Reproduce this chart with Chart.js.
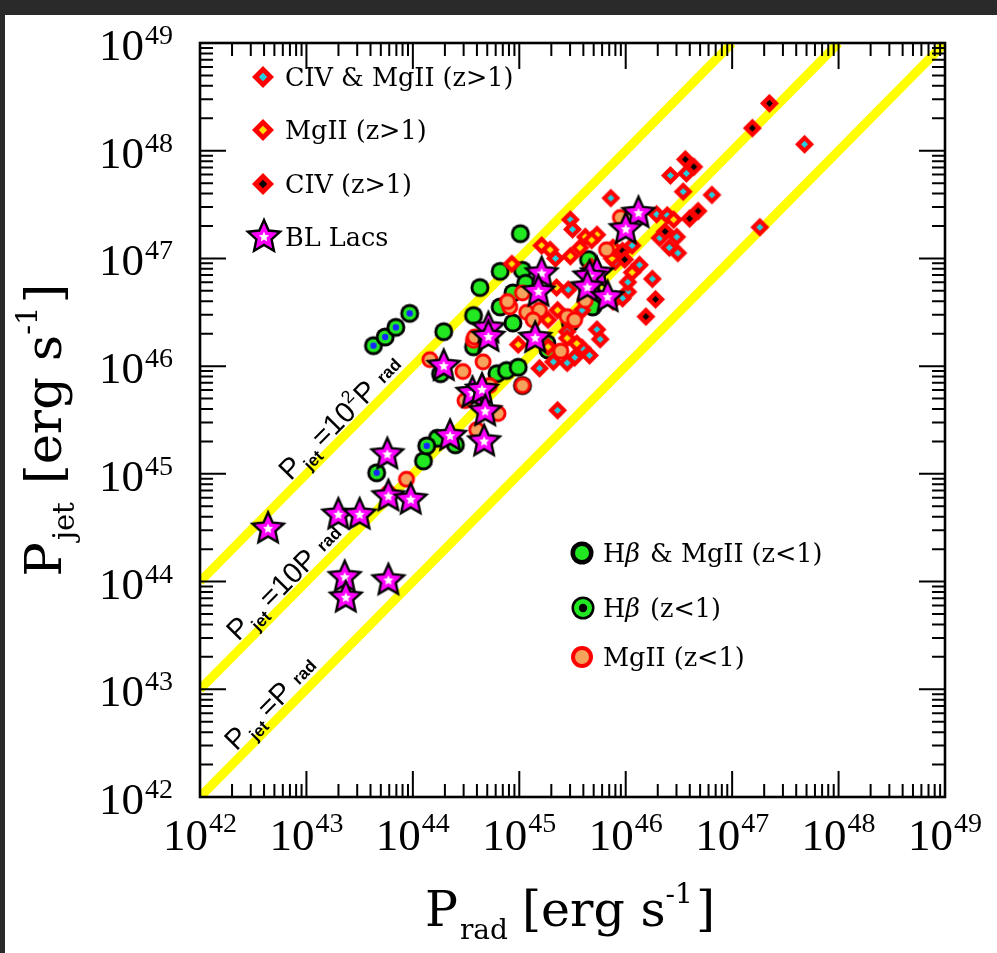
<!DOCTYPE html>
<html><head><meta charset="utf-8">
<script src="https://cdn.jsdelivr.net/npm/chart.js@4.4.1/dist/chart.umd.min.js"></script>
<style>html,body{margin:0;padding:0;background:#fff;overflow:hidden}canvas{display:block}</style>
</head><body>
<canvas id="c" width="997" height="953"></canvas>
<script>
// All values are log10 of power in erg/s
const tickExponents = [42, 43, 44, 45, 46, 47, 48, 49];

// P_jet = P_rad, 10 P_rad, 100 P_rad (end points, log10)
const lineEqual = [[42, 42], [49, 49]];
const lineTen = [[42, 43], [48, 49]];
const lineHundred = [[42, 44], [47, 49]];

// CIV & MgII (z>1)
const civMgX = [47.68,47.26,46.42,46.57,46.54,46.81,45.86,46.29,46.39,46.32,46.48,46.41,46.49,46.06,46.13,46.25,46.02,45.97,45.48,45.50,45.34,45.46,45.59,45.73,45.76,45.59,45.66,45.52,45.45,45.19,45.36,45.45,46.02,45.90,45.88,45.32];
const civMgY = [48.06,47.29,47.77,47.79,47.62,47.59,47.56,47.41,47.40,47.19,47.20,47.10,47.05,47.12,46.94,46.81,46.69,46.63,47.36,47.27,47.00,46.71,46.52,46.34,46.25,46.17,46.10,46.08,46.03,45.98,45.59,46.32,46.78,46.97,46.60,46.04];
// MgII (z>1)
const mgHiX = [45.21,45.29,45.62,45.73,45.68,45.57,45.48,44.93,44.99,45.54,45.45,45.27,45.87,46.06,46.45,45.27,45.88,45.36,45.68,45.35];
const mgHiY = [47.12,47.08,47.20,47.22,47.17,47.10,47.02,46.95,46.20,46.21,46.26,46.43,47.00,46.87,47.36,46.18,47.10,46.52,46.92,46.73];
// CIV (z>1)
const civX = [47.35,47.19,46.56,46.64,46.68,46.60,46.37,45.97,45.99,46.28,46.19];
const civY = [48.44,48.21,47.92,47.85,47.44,47.37,47.25,47.07,46.99,46.62,46.46];
// BL Lacs
const blX = [46.12,46.00,45.73,45.66,45.64,45.83,45.21,45.18,45.15,44.71,44.71,44.29,44.56,44.65,44.68,44.67,44.35,43.76,43.77,43.98,43.30,43.50,42.64,43.36,43.77,43.37];
const blY = [47.42,47.27,46.86,46.83,46.73,46.64,46.86,46.69,46.26,46.35,46.27,46.00,45.75,45.78,45.58,45.30,45.35,45.18,44.79,44.76,44.62,44.62,44.49,44.04,44.01,43.85];
// Hbeta & MgII (z<1)
const hbMgX = [44.29,44.26,44.10,44.23,44.40,44.79,44.88,44.99,45.03,44.57,44.63,44.82,45.01,45.03,45.06,44.94,44.82,44.94,45.26,45.48,45.69,45.65,45.27,44.57];
const hbMgY = [46.32,45.93,45.12,45.33,45.27,45.93,45.96,45.99,45.82,46.47,46.73,46.88,47.23,46.89,46.77,46.68,46.55,46.40,46.21,46.40,46.55,46.99,46.15,46.18];
// Hbeta (z<1)
const hbX = [43.63,43.74,43.84,43.97,43.66,44.13];
const hbY = [46.19,46.27,46.36,46.49,45.01,45.26];
// MgII (z<1)
const mgLoX = [44.16,44.47,44.57,44.66,44.58,44.72,44.49,44.80,44.60,43.94,43.77,44.91,45.03,45.07,45.19,45.13,45.45,45.52,45.82,45.95,45.62,45.39,44.89,45.03];
const mgLoY = [46.06,45.95,46.24,46.04,46.27,45.82,45.68,45.56,45.41,44.95,44.82,46.55,46.68,46.50,46.52,46.43,46.46,46.43,47.08,47.38,46.61,46.14,46.60,45.82];

const pts = (xs, ys) => xs.map((x, i) => ({x, y: ys[i]}));
const seg = a => a.map(p => ({x: p[0], y: p[1]}));

const RED = '#ff0000', CYAN = '#22d0e0', YEL = '#ffe000', MAG = '#ff00ff',
      GREEN = '#22e822', BLUE = '#1428ff', ORANGE = '#f5a35c', LINEY = '#ffff00';

function sprite(size, fn) {
  const c = document.createElement('canvas');
  c.width = c.height = size;
  const g = c.getContext('2d');
  g.translate(size / 2, size / 2);
  fn(g);
  return c;
}
function diamond(g, R, col) {
  g.beginPath(); g.moveTo(0, -R); g.lineTo(R, 0); g.lineTo(0, R); g.lineTo(-R, 0); g.closePath();
  g.fillStyle = col; g.fill();
}
function disc(g, r, col) { g.beginPath(); g.arc(0, 0, r, 0, Math.PI * 2); g.fillStyle = col; g.fill(); }
function starPath(g, R, r) {
  g.beginPath();
  for (let i = 0; i < 10; i++) {
    const a = -Math.PI / 2 + i * Math.PI / 5, rr = i % 2 ? r : R;
    g.lineTo(rr * Math.cos(a), rr * Math.sin(a));
  }
  g.closePath();
}
function drawStar(g, R) {
  starPath(g, R, R * 0.47); g.fillStyle = MAG; g.fill();
  g.lineWidth = 2.4; g.strokeStyle = '#000'; g.lineJoin = 'miter'; g.stroke();
  starPath(g, R * 0.32, R * 0.15); g.fillStyle = '#fff'; g.fill();
}
const mkDiamond = (R, r, col) => sprite(2 * R + 4, g => { diamond(g, R, RED); diamond(g, r, col); });
const sDiaCyan = mkDiamond(9.5, 3.6, CYAN), sDiaYel = mkDiamond(9.5, 3.6, YEL), sDiaBlk = mkDiamond(9.5, 3.4, '#000');
const sStar = sprite(42, g => drawStar(g, 16.5));
const sHbMg = sprite(24, g => { disc(g, 9.5, '#000'); disc(g, 6.6, GREEN); });
const sHb = sprite(24, g => { disc(g, 9.5, '#000'); disc(g, 6.6, GREEN); disc(g, 3.2, BLUE); });
const sMgLo = sprite(22, g => { disc(g, 8.5, RED); disc(g, 5.6, ORANGE); });

function scatterSet(label, data, style, order) {
  return {type: 'scatter', label, data, pointStyle: style, pointRadius: 5, order, clip: false};
}
function lineSet(label, data) {
  return {type: 'line', label, data: seg(data), borderColor: LINEY, borderWidth: 9, pointRadius: 0,
          borderCapStyle: 'butt', fill: false, order: 100, clip: 0, tension: 0};
}

function rich(ctx, parts, x, y, angle, align) {
  ctx.save(); ctx.translate(x, y); ctx.rotate(angle);
  let total = 0;
  const ws = parts.map(p => { ctx.font = p[1]; const w = ctx.measureText(p[0]).width + (p[3] || 0); total += w; return w; });
  let cx = align === 'center' ? -total / 2 : align === 'right' ? -total : 0;
  ctx.textAlign = 'left'; ctx.textBaseline = 'alphabetic'; ctx.fillStyle = '#000';
  parts.forEach((p, i) => { ctx.font = p[1]; ctx.fillText(p[0], cx, p[2]); cx += ws[i]; });
  ctx.restore();
}

const framePlugin = {
  id: 'frame',
  beforeDraw(chart) {
    const c = chart.ctx;
    c.save();
    c.fillStyle = '#fff'; c.fillRect(0, 0, chart.width, chart.height);
    c.fillStyle = '#2a2a2a'; c.fillRect(0, 0, chart.width, 15); c.fillRect(0, 0, 5, chart.height);
    c.restore();
  },
  afterDatasetsDraw(chart) {
    const c = chart.ctx, a = chart.chartArea, xs = chart.scales.x, ys = chart.scales.y;
    c.save();
    c.strokeStyle = '#000'; c.lineWidth = 2.6;
    c.strokeRect(a.left, a.top, a.right - a.left, a.bottom - a.top);
    c.lineWidth = 2;
    c.beginPath();
    for (let e = 42; e <= 49; e++) {
      for (let k = 1; k <= 9; k++) {
        const v = e + Math.log10(k);
        if (v > 49) break;
        const L = k === 1 ? 26 : 13;
        const px = xs.getPixelForValue(v), py = ys.getPixelForValue(v);
        c.moveTo(px, a.bottom); c.lineTo(px, a.bottom - L);
        c.moveTo(px, a.top); c.lineTo(px, a.top + L);
        c.moveTo(a.left, py); c.lineTo(a.left + L, py);
        c.moveTo(a.right, py); c.lineTo(a.right - L, py);
      }
    }
    c.stroke();
    // tick labels
    const big = '45px "Liberation Serif"', sup = '28px "Liberation Serif"';
    tickExponents.forEach(e => {
      rich(c, [['10', big, 0, 1], [String(e), sup, -18]], xs.getPixelForValue(e), 850, 0, 'center');
      rich(c, [['10', big, 0, 1], [String(e), sup, -16]], 173, ys.getPixelForValue(e) + 17, 0, 'right');
    });
    // line labels
    const ang = Math.atan2(ys.getPixelForValue(42) - ys.getPixelForValue(43), xs.getPixelForValue(43) - xs.getPixelForValue(42));
    const m = '29px "Liberation Sans"', sb = 'bold 17px "Liberation Sans"', sp = '18px "Liberation Sans"';
    const lab = (xv, k, parts) => {
      const px = xs.getPixelForValue(xv), py = ys.getPixelForValue(xv + k);
      const d = 6;
      rich(c, parts, px - Math.sin(ang) * d, py - Math.cos(ang) * d, -ang, 'left');
    };
    lab(42.89, 2, [['P', m, 0, 2], ['jet', sb, 7, 5], ['=10', m, 0], ['2', sp, -13, 1], ['P', m, 0, 9], ['rad', sb, -2]]);
    lab(42.40, 1, [['P', m, 0, 2], ['jet', sb, 7, 5], ['=10P', m, 0, 9], ['rad', sb, -2]]);
    lab(42.38, 0, [['P', m, 0, 2], ['jet', sb, 7, 5], ['=P', m, 0, 9], ['rad', sb, -2]]);
    c.restore();
  },
  afterDraw(chart) {
    const c = chart.ctx;
    c.save();
    const lf = '25.5px "DejaVu Serif"', lfi = 'italic 25.5px "DejaVu Serif"';
    // legend top-left
    const dia = (x, y, col) => { c.save(); c.translate(x, y); diamond(c, 11, RED); diamond(c, 4.2, col); c.restore(); };
    dia(263, 77, CYAN); rich(c, [['CIV & MgII (z>1)', lf, 0]], 285, 86, 0, 'left');
    dia(263, 130, YEL); rich(c, [['MgII (z>1)', lf, 0]], 285, 139, 0, 'left');
    dia(263, 184, '#000'); rich(c, [['CIV (z>1)', lf, 0]], 285, 193, 0, 'left');
    c.save(); c.translate(264, 237); drawStar(c, 17); c.restore();
    rich(c, [['BL Lacs', lf, 0]], 285, 246, 0, 'left');
    // legend bottom-right
    c.save(); c.translate(582, 553); disc(c, 11.5, '#000'); disc(c, 7, GREEN); c.restore();
    rich(c, [['H', lf, 0], ['\u03b2', lfi, 0, 2], [' & MgII (z<1)', lf, 0]], 603, 562, 0, 'left');
    c.save(); c.translate(583, 608); disc(c, 11.5, '#000'); disc(c, 9, GREEN); disc(c, 4.2, '#000'); c.restore();
    rich(c, [['H', lf, 0], ['\u03b2', lfi, 0, 2], [' (z<1)', lf, 0]], 603, 617, 0, 'left');
    c.save(); c.translate(582, 657); disc(c, 11, RED); disc(c, 7, ORANGE); c.restore();
    rich(c, [['MgII (z<1)', lf, 0]], 603, 666, 0, 'left');
    // axis titles
    const tf = '49px "DejaVu Serif"', ts = '28px "DejaVu Serif"';
    rich(c, [['P', tf, 0, 2], ['rad', ts, 13, 14], ['[erg s', tf, 0], ['-1', ts, -23, 3], [']', tf, 0]], 570, 926, 0, 'center');
    const tfy = '51px "DejaVu Serif"', tsy = '29px "DejaVu Serif"';
    rich(c, [['P', tfy, 0, 2], ['jet', tsy, 13, 18], ['[erg s', tfy, 0], ['-1', tsy, -24, 3], [']', tfy, 0]], 61, 430, -Math.PI / 2, 'center');
    c.restore();
  }
};

new Chart(document.getElementById('c'), {
  type: 'scatter',
  data: {
    datasets: [
      scatterSet('BL Lacs', pts(blX, blY), sStar, 0),
      scatterSet('MgII (z<1)', pts(mgLoX, mgLoY), sMgLo, 30),
      scatterSet('CIV (z>1)', pts(civX, civY), sDiaBlk, 40),
      scatterSet('MgII (z>1)', pts(mgHiX, mgHiY), sDiaYel, 45),
      scatterSet('CIV & MgII (z>1)', pts(civMgX, civMgY), sDiaCyan, 50),
      scatterSet('Hb (z<1)', pts(hbX, hbY), sHb, 55),
      scatterSet('Hb & MgII (z<1)', pts(hbMgX, hbMgY), sHbMg, 60),
      lineSet('P_jet = P_rad', lineEqual),
      lineSet('P_jet = 10 P_rad', lineTen),
      lineSet('P_jet = 100 P_rad', lineHundred)
    ]
  },
  options: {
    responsive: false, animation: false, events: [],
    layout: {padding: {left: 200, right: 52, top: 43, bottom: 156}},
    plugins: {legend: {display: false}, tooltip: {enabled: false}},
    scales: {
      x: {type: 'linear', min: 42, max: 49, display: false},
      y: {type: 'linear', min: 42, max: 49, display: false}
    }
  },
  plugins: [framePlugin]
});
</script>
</body></html>
